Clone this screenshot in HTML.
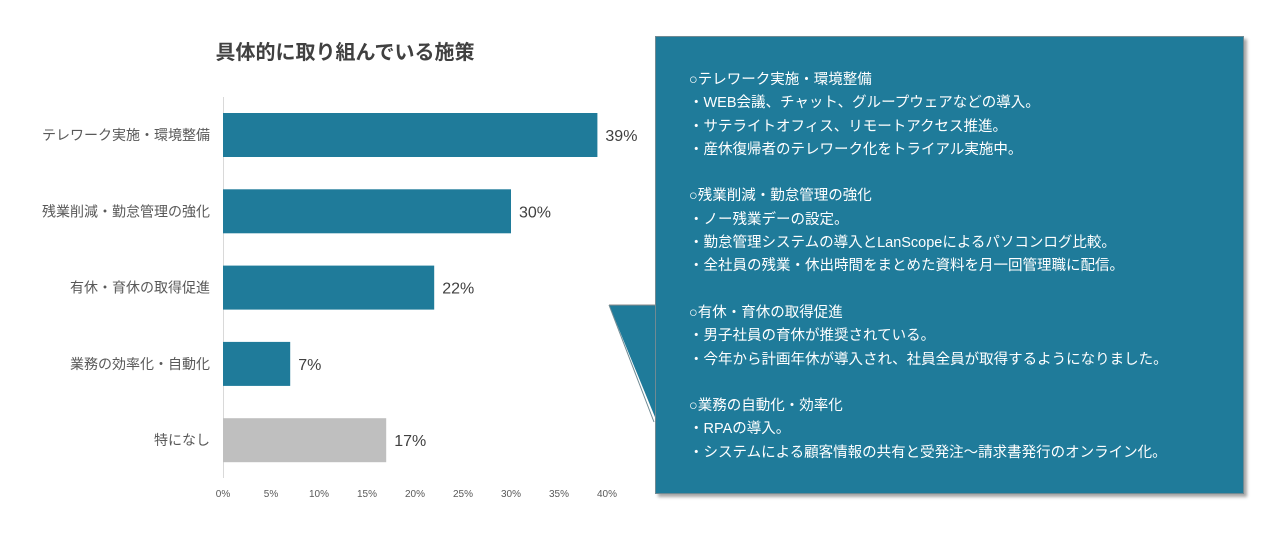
<!DOCTYPE html>
<html><head><meta charset="utf-8">
<style>
body{margin:0;width:1280px;height:533px;background:#fff;overflow:hidden;position:relative;font-family:"Liberation Sans","Noto Sans CJK JP",sans-serif}
#chart{position:absolute;left:0;top:0}
#callout{position:absolute;left:655px;top:36px;width:589px;height:458px;background:#1f7b9a;border:1px solid #6f8a93;box-shadow:3px 3px 3px rgba(0,0,0,0.35);box-sizing:border-box}
#callout-text{position:absolute;left:33px;top:32px;color:#fff;font-size:14.5px;line-height:23.3px;white-space:pre}
</style></head><body>
<svg id="chart" width="650" height="533">
<text x="345" y="59" text-anchor="middle" font-size="20" font-weight="bold" fill="#404040" font-family="Liberation Sans, Noto Sans CJK JP, sans-serif">具体的に取り組んでいる施策</text>
<line x1="223.5" y1="97" x2="223.5" y2="478" stroke="#d9d9d9"/>
<g id="bars"></g><g id="ticks"></g>
</svg>
<svg width="660" height="533" style="position:absolute;left:0;top:0;pointer-events:none">
<polygon points="609,305 657,305 657,422" fill="#1f7b9a"/>
<line x1="609" y1="305" x2="656" y2="305" stroke="#8a8a8a" stroke-width="1"/>
<line x1="609" y1="305" x2="654" y2="422" stroke="#6f8a93" stroke-width="1"/>
</svg>
<div id="callout">
<div id="callout-text">○テレワーク実施・環境整備
・WEB会議、チャット、グループウェアなどの導入。
・サテライトオフィス、リモートアクセス推進。
・産休復帰者のテレワーク化をトライアル実施中。

○残業削減・勤怠管理の強化
・ノー残業デーの設定。
・勤怠管理システムの導入とLanScopeによるパソコンログ比較。
・全社員の残業・休出時間をまとめた資料を月一回管理職に配信。

○有休・育休の取得促進
・男子社員の育休が推奨されている。
・今年から計画年休が導入され、社員全員が取得するようになりました。

○業務の自動化・効率化
・RPAの導入。
・システムによる顧客情報の共有と受発注～請求書発行のオンライン化。</div>
</div>
<script>
const categories=["テレワーク実施・環境整備","残業削減・勤怠管理の強化","有休・育休の取得促進","業務の効率化・自動化","特になし"];
const values=[39,30,22,7,17];
const tickLabels=["0%","5%","10%","15%","20%","25%","30%","35%","40%"];
const tickValues=[0,5,10,15,20,25,30,35,40];
const NS="http://www.w3.org/2000/svg";
const x=v=>223+v*9.6;
const yc=i=>135+i*76.3;
const bars=document.getElementById('bars'),ticks=document.getElementById('ticks');
function mk(t,a,p){const e=document.createElementNS(NS,t);for(const k in a)e.setAttribute(k,a[k]);p.appendChild(e);return e;}
categories.forEach((c,i)=>{
  const r=mk('rect',{x:x(0),y:yc(i)-22,width:x(values[i])-x(0),height:44,fill:i===4?'#bfbfbf':'#1f7b9a'},bars);
  
  
  const l=mk('text',{x:210,y:yc(i)+5,'text-anchor':'end','font-size':14,fill:'#595959'},bars);
  l.textContent=c;
  
  
  const v=mk('text',{x:x(values[i])+8,y:yc(i)+6,'font-size':16,fill:'#404040'},bars);
  v.textContent=values[i]+'%';
  
  
});
tickValues.forEach((t,i)=>{
  const e=mk('text',{x:x(t),y:497,'text-anchor':'middle','font-size':10,fill:'#595959'},ticks);
  e.textContent=tickLabels[i];
  
  
});
</script>
</body></html>
